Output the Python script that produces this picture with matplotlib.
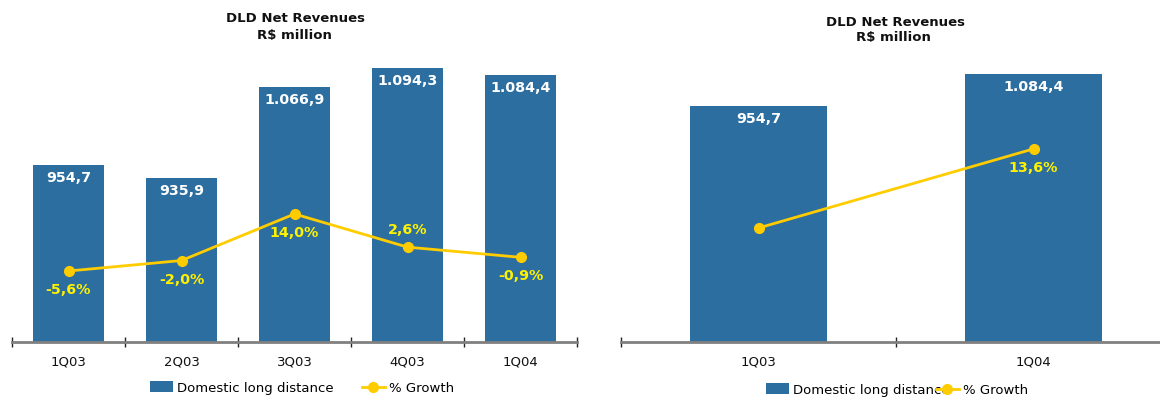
import matplotlib
matplotlib.use("Agg")
import matplotlib.pyplot as plt
from matplotlib.patches import Patch
from matplotlib.lines import Line2D
import numpy as np

plt.rcParams['font.family'] = ['DejaVu Sans']

# Quarterly series
quarters = ["1Q03", "2Q03", "3Q03", "4Q03", "1Q04"]
revenues = [954.7, 935.9, 1066.9, 1094.3, 1084.4]
growth = [-5.6, -2.0, 14.0, 2.6, -0.9]
growth_labels = ["-5,6%", "-2,0%", "14,0%", "2,6%", "-0,9%"]
growth_label_pos = ["below", "below", "below", "above", "below"]

# Year-over-year comparison
yoy_quarters = ["1Q03", "1Q04"]
yoy_revenues = [954.7, 1084.4]
yoy_growth = [0.0, 13.6]
yoy_growth_labels = ["", "13,6%"]

bar_labels = ["954,7", "935,9", "1.066,9", "1.094,3", "1.084,4"]
yoy_bar_labels = ["954,7", "1.084,4"]

BLUE = "#2C6EA0"
LINE = "#FFCC00"
LABEL_YELLOW = "#FFF200"
AXIS_GRAY = "#808080"

W, H = 1160, 398
fig = plt.figure(figsize=(W / 100, H / 100), dpi=100)


def px_axes(x0, x1, y_top, y_bottom):
    return fig.add_axes([x0 / W, 1 - y_bottom / H, (x1 - x0) / W, (y_bottom - y_top) / H])


def style_axes(ax, n, xlim):
    ax.set_xlim(*xlim)
    for s in ("left", "right", "top"):
        ax.spines[s].set_visible(False)
    ax.spines["bottom"].set_color(AXIS_GRAY)
    ax.spines["bottom"].set_linewidth(2)
    ax.set_yticks([])
    ax.set_xticks(np.arange(n))
    ax.tick_params(axis="x", which="major", length=0, pad=9.5, labelsize=9.5, labelcolor="#111111")
    ax.set_xticks(np.arange(n + 1) - 0.5, minor=True)
    ax.tick_params(axis="x", which="minor", direction="inout", length=7, width=1, color="#222222")


def draw_panel(ax, cats, vals, blabels, gvals, glabels, gpos, bar_w, ylim, y2lim, xlim):
    x = np.arange(len(cats))
    ax.bar(x, vals, width=bar_w, color=BLUE, zorder=2)
    ax.set_ylim(*ylim)
    style_axes(ax, len(cats), xlim)
    ax.set_xticklabels(cats)
    for xi, v, lab in zip(x, vals, blabels):
        ax.annotate(lab, (xi, v), xytext=(0, -13), textcoords="offset pixels",
                    ha="center", va="center", color="white", fontsize=10.3,
                    fontweight="bold", zorder=4)
    ax2 = ax.twinx()
    ax2.set_ylim(*y2lim)
    ax2.set_xlim(*xlim)
    ax2.axis("off")
    ax2.plot(x, gvals, color=LINE, lw=2.0, marker="o", ms=7, zorder=5, clip_on=False)
    for xi, g, lab, pos in zip(x, gvals, glabels, gpos):
        if not lab:
            continue
        dy = 17 if pos == "above" else -19
        ax2.annotate(lab, (xi, g), xytext=(0, dy), textcoords="offset pixels",
                     ha="center", va="center", color=LABEL_YELLOW, fontsize=10.3,
                     fontweight="bold", zorder=6)
    return ax2


legend_handles = [
    Patch(facecolor=BLUE, edgecolor="none", label="Domestic long distance"),
    Line2D([0], [0], color=LINE, lw=2.0, marker="o", ms=7, label="% Growth"),
]

# Left panel: quarterly evolution
axL = px_axes(12, 577, 50, 342)
draw_panel(axL, quarters, revenues, bar_labels, growth, growth_labels, growth_label_pos,
           bar_w=0.63, ylim=(700, 1120.1), y2lim=(-30.0, 70.34), xlim=(-0.5, 4.5))
fig.text(296 / W, 1 - 19 / H, "DLD Net Revenues", ha="center", va="center",
         fontsize=9.5, fontweight="bold", color="#111111")
fig.text(294 / W, 1 - 36 / H, "R$ million", ha="center", va="center",
         fontsize=9.5, fontweight="bold", color="#111111")
fig.legend(handles=legend_handles, loc="center", bbox_to_anchor=(302 / W, 1 - 388 / H),
           ncol=2, frameon=False, fontsize=9.5, handlelength=1.7, handleheight=0.9,
           handletextpad=0.3, columnspacing=2.2, borderpad=0)

# Right panel: year-over-year comparison
axR = px_axes(621, 1160, 50, 342)
draw_panel(axR, yoy_quarters, yoy_revenues, yoy_bar_labels, yoy_growth, yoy_growth_labels,
           ["below", "below"], bar_w=0.5, ylim=(0, 1182), y2lim=(-19.6, 30.6),
           xlim=(-0.5, -0.5 + 539 / 275))
fig.text(896 / W, 1 - 22 / H, "DLD Net Revenues", ha="center", va="center",
         fontsize=9.5, fontweight="bold", color="#111111")
fig.text(893 / W, 1 - 38 / H, "R$ million", ha="center", va="center",
         fontsize=9.5, fontweight="bold", color="#111111")
fig.legend(handles=legend_handles, loc="center", bbox_to_anchor=(897 / W, 1 - 390 / H),
           ncol=2, frameon=False, fontsize=9.5, handlelength=1.7, handleheight=0.9,
           handletextpad=0.3, columnspacing=-1.0, borderpad=0)

fig.savefig("out.png", dpi=100)
